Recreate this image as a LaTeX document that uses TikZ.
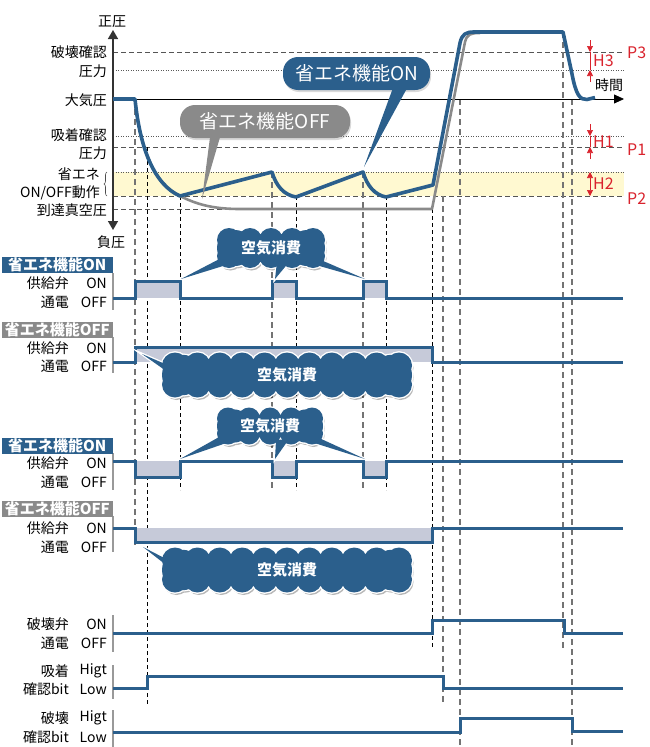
\documentclass[tikz,border=0pt]{standalone}
\usepackage{fontspec}
\setmainfont{Noto Sans CJK JP}
\usepackage{tikz}
\usetikzlibrary{
  arrows.meta,
  shadows,
  calc,
  decorations.pathreplacing
}
\pgfdeclarelayer{front}
\pgfsetlayers{main,front}
\definecolor{tmBlue}{HTML}{2B5F8C}
\definecolor{tmGray}{HTML}{8A8A8A}
\definecolor{tmRed}{HTML}{D9232D}
\definecolor{tmBand}{HTML}{FFF9D1}
\definecolor{tmFill}{HTML}{C6CAD9}
\definecolor{tmDash}{HTML}{555555}
\newcommand{\tmfs}[1]{\fontsize{#1}{#1}\selectfont}
% puffs of a cloud: centre x, centre y, width, height, steps, puff radius
\newcommand{\tmpuffs}[6]{%
  foreach \k in {0,...,#5}{
    ({#1-#3/2+#6+\k*(#3-2*#6)/#5}, {#2-#4/2+#6}) circle (#6pt)
    ({#1-#3/2+#6+\k*(#3-2*#6)/#5}, {#2+#4/2-#6}) circle (#6pt)}
  ({#1-#3/2+0.45*#4}, #2) circle ({0.45*#4pt})
  ({#1+#3/2-0.45*#4}, #2) circle ({0.45*#4pt})
}
\tikzset{
  axlbl/.style={font=\tmfs{14}, inner sep=0pt, anchor=east},
  toplbl/.style={font=\tmfs{14}, inner sep=0pt},
  plbl/.style={font=\tmfs{16}, text=tmRed, inner sep=0pt, anchor=west},
  band/.style={fill=tmBand},
  refdash/.style={line width=1pt, tmDash, dash pattern=on 5pt off 3pt},
  refdot/.style={line width=0.9pt, black!65, dash pattern=on 1pt off 1.5pt},
  evblack/.style={line width=0.8pt, black, dash pattern=on 4pt off 3pt},
  evgray/.style={line width=1.5pt, black!55, dash pattern=on 6pt off 4pt},
  mainaxis/.style={line width=1.4pt, black!80, {Triangle[length=9pt,width=10pt]}-{Triangle[length=9pt,width=10pt]}},
  timeaxis/.style={line width=0.8pt, black, -{Triangle[length=10pt,width=9pt]}},
  sideaxis/.style={line width=1.2pt, black!40},
  press/.style={line width=3.6pt, tmBlue, line join=round},
  pressoff/.style={line width=2.6pt, tmGray, line join=round},
  wave/.style={line width=3pt, tmBlue},
  wavefill/.style={fill=tmFill},
  hdron/.style={fill=tmBlue, text=white, font=\tmfs{15}\bfseries, minimum width=111pt, minimum height=16pt, inner sep=0pt, anchor=east},
  hdroff/.style={hdron, fill=tmGray},
  pill/.style={rounded corners=15pt, text=white, font=\tmfs{19}, minimum height=33pt, inner sep=0pt,
    drop shadow={opacity=0.3, shadow xshift=1pt, shadow yshift=-2pt}},
  cloudtxt/.style={text=white, font=\tmfs{15}\bfseries, inner sep=0pt},
  puffshadow/.style={fill=black, opacity=0.28, shift={(1.5,2.5)}},
  puffrim/.style={draw=white, line width=2.6pt},
  pufffill/.style={fill=tmBlue},
  tailrim/.style={draw=white, line width=2pt},
  hline/.style={tmRed, line width=0.7pt},
  harr/.style={hline, -{Triangle[length=6pt,width=6pt]}},
  bracel/.style={decorate, decoration={brace, amplitude=3pt}, line width=0.6pt, black!70}
}

\begin{document}
\begin{tikzpicture}[x=1pt, y=-1pt]
  \useasboundingbox (0,0) rectangle (650,747);
  \fill[band] (113,172) rectangle (624,196);
  \foreach \y in {52,147,196}
    \draw[refdash] (113,\y) -- (624,\y);
  \draw[refdash] (113,209) -- (432,209);
  \foreach \y in {70,136,172}
    \draw[refdot] (113,\y) -- (624,\y);

  \foreach \x/\ya/\yb in {135/99/547, 272/172/490, 363/172/490, 443/196/702, 460/99/747, 563/32/648, 572/99/747}
    \draw[evgray] (\x,\ya) -- (\x,\yb);
  \foreach \x/\ya/\yb in {147/147/705, 180/196/490, 296/196/490, 386/196/490, 432/209/648}
    \draw[evblack] (\x,\ya) -- (\x,\yb);

  \draw[timeaxis] (113,99) -- (624,99);
  \draw[mainaxis] (113,230) -- (113,30);
  \node[toplbl] (posP) at (112,22) {正圧};
  \node[toplbl] (negP) at (111,242) {負圧};
  \node[toplbl] (tAx) at (609,85) {時間};

  \node[axlbl] (lblP3) at (107,52) {破壊確認};
  \node[axlbl] (lblP3b) at (107,71) {圧力};
  \node[axlbl] (lblAtm) at (107,100) {大気圧};
  \node[axlbl] (lblP1) at (107,135) {吸着確認};
  \node[axlbl] (lblP1b) at (107,153) {圧力};
  \node[axlbl] (lblEco) at (100,174) {省エネ};
  \node[axlbl] (lblEcob) at (100,193) {ON/OFF動作};
  \node[axlbl] (lblVac) at (107,210) {到達真空圧};
  \draw[bracel] (107,196) -- (107,172);

  \draw[hline] (590,52) -- (590,70);
  \draw[harr] (590,40) -- (590,52);
  \draw[harr] (590,82) -- (590,70);
  \draw[hline] (590,136) -- (590,147);
  \draw[harr] (590,124) -- (590,136);
  \draw[harr] (590,159) -- (590,147);
  \draw[hline, {Triangle[length=6pt,width=6pt]}-{Triangle[length=6pt,width=6pt]}] (590,172) -- (590,196);
  \node[plbl] (h3) at (593,61) {H3};
  \node[plbl] (h1) at (593,142) {H1};
  \node[plbl] (h2) at (593,184) {H2};
  \node[plbl] (p3) at (627,53) {P3};
  \node[plbl] (p1) at (627,150) {P1};
  \node[plbl] (p2) at (627,199) {P2};

  \draw[pressoff] (135,99) .. controls (140,150) and (155,185) .. (180,196)
    .. controls (196,204) and (212,209) .. (240,209) -- (432,209) -- (465,42)
    .. controls (467,34) and (471,33) .. (480,33);
  \draw[press] (113,99) -- (135,99) .. controls (140,150) and (155,185) .. (180,196) -- (272,172)
    .. controls (276,186) and (284,195) .. (296,197) -- (363,172)
    .. controls (367,186) and (375,195) .. (386,197) -- (433,185) -- (460,43)
    .. controls (462,34) and (466,32) .. (474,32) -- (563,32) -- (572,74)
    .. controls (576,95) and (580,100) .. (587,99.5) -- (595,97.5);

  \coordinate (offTip) at (202,199);
  \coordinate (onTip) at (364,167);
  \node[pill, fill=tmGray, minimum width=170pt] (offCall) at (265,121.5) {省エネ機能OFF};
  \fill[tmGray] ([xshift=-55pt,yshift=1pt]offCall.south) -- (offTip) -- ([xshift=-45pt,yshift=1pt]offCall.south) -- cycle;
  \node[pill, fill=tmBlue, minimum width=147pt] (onCall) at (356.5,73.5) {省エネ機能ON};
  \fill[tmBlue] ([xshift=36pt,yshift=1pt]onCall.south) -- (onTip) -- ([xshift=50pt,yshift=1pt]onCall.south) -- cycle;

  \foreach \ya/\yb in {273/310, 337/373, 453/490, 516/552, 615/652, 665/699, 710/747}
    \draw[sideaxis] (113,\ya) -- (113,\yb);
  \node[hdron] (hdr1) at (113,265) {省エネ機能ON};
  \node[hdroff] (hdr2) at (113,329.5) {省エネ機能OFF};
  \node[hdron] (hdr3) at (113,446) {省エネ機能ON};
  \node[hdroff] (hdr4) at (113,509) {省エネ機能OFF};
  \foreach \ya/\yb/\la/\lb/\ra/\rb [count=\i] in {283/302/供給弁/通電/ON/OFF, 348/366/供給弁/通電/ON/OFF,
      463/482/供給弁/通電/ON/OFF, 528/547/供給弁/通電/ON/OFF, 624/643/破壊弁/通電/ON/OFF,
      671/689/吸着/確認bit/Higt/Low, 718/737/破壊/確認bit/Higt/Low}{
    \node[axlbl] (sig\i-a) at (69,\ya) {\la};
    \node[axlbl] (sig\i-b) at (107,\ya) {\ra};
    \node[axlbl] (sig\i-c) at (69,\yb) {\lb};
    \node[axlbl] (sig\i-d) at (107,\yb) {\rb};
  }

  \foreach \a/\b in {135/180, 272/296, 363/386}{
    \fill[wavefill] (\a,281) rectangle (\b,298);
    \fill[wavefill] (\a,461) rectangle (\b,477);
  }
  \fill[wavefill] (135,347) rectangle (432,362);
  \fill[wavefill] (135,528) rectangle (432,542);
  \draw[wave] (113,298) -- (135,298) -- (135,281) -- (180,281) -- (180,298) -- (272,298) -- (272,281)
    -- (296,281) -- (296,298) -- (363,298) -- (363,281) -- (386,281) -- (386,298) -- (623,298);
  \draw[wave] (113,362) -- (135,362) -- (135,347) -- (432,347) -- (432,362) -- (623,362);
  \draw[wave] (113,461) -- (135,461) -- (135,477) -- (180,477) -- (180,461) -- (272,461) -- (272,477)
    -- (296,477) -- (296,461) -- (363,461) -- (363,477) -- (386,477) -- (386,461) -- (623,461);
  \draw[wave] (113,528) -- (135,528) -- (135,542) -- (432,542) -- (432,528) -- (623,528);
  \draw[wave] (113,633) -- (432,633) -- (432,620) -- (564,620) -- (564,633) -- (623,633);
  \draw[wave] (113,688) -- (147,688) -- (147,676) -- (443,676) -- (443,688) -- (623,688);
  \draw[wave] (113,732) -- (460,732) -- (460,718) -- (572,718) -- (572,731) -- (623,731);

  \begin{pgfonlayer}{front}
    \node[cloudtxt, minimum width=108pt, minimum height=40pt] (cloudA) at (271,248) {空気消費};
    \node[cloudtxt, minimum width=250pt, minimum height=45pt] (cloudB) at (287,375) {空気消費};
    \node[cloudtxt, minimum width=106pt, minimum height=37pt] (cloudC) at (270,426) {空気消費};
    \node[cloudtxt, minimum width=250pt, minimum height=45pt] (cloudD) at (287,570) {空気消費};
  \end{pgfonlayer}
  \coordinate (tipA1) at (181,279);
  \coordinate (tipA2) at (275,279);
  \coordinate (tipA3) at (365,279);
  \coordinate (tipC1) at (180,459);
  \coordinate (tipC2) at (275,459);
  \coordinate (tipC3) at (365,459);
  \coordinate (tipB) at (142,354);
  \coordinate (tipD) at (143,547);

  \foreach \cx/\cy/\w/\h/\n/\r in {271/248/108/40/4/12, 287/375/250/45/10/13, 270/426/106/37/4/11, 287/570/250/45/10/13}
    \path[puffshadow] \tmpuffs{\cx}{\cy}{\w}{\h}{\n}{\r};
  \foreach \s in {tailrim, puffrim, pufffill}{
    \foreach \c in {A,C}{
      \path[\s] ($(cloud\c.center)+(-42,6)$) -- (tip\c1) -- ($(cloud\c.center)+(-35,14)$) -- cycle;
      \path[\s] ($(cloud\c.center)+(6,14)$) -- (tip\c2) -- ($(cloud\c.center)+(19,13)$) -- cycle;
      \path[\s] ($(cloud\c.center)+(36,6)$) -- (tip\c3) -- ($(cloud\c.center)+(38,15)$) -- cycle;
    }
    \foreach \c in {B,D}
      \path[\s] ($(cloud\c.center)+(-115,-8)$) -- (tip\c) -- ($(cloud\c.center)+(-108,5)$) -- cycle;
    \foreach \cx/\cy/\w/\h/\n/\r in {271/248/108/40/4/12, 287/375/250/45/10/13, 270/426/106/37/4/11, 287/570/250/45/10/13}{
      \path[\s] \tmpuffs{\cx}{\cy}{\w}{\h}{\n}{\r};
    }
  }
  \foreach \cx/\cy/\w/\h/\r in {271/248/108/40/12, 287/375/250/45/13, 270/426/106/37/11, 287/570/250/45/13}
    \fill[pufffill] (\cx-\w/2+\r, \cy-\h/2+\r) rectangle (\cx+\w/2-\r, \cy+\h/2-\r);
\end{tikzpicture}
\end{document}
